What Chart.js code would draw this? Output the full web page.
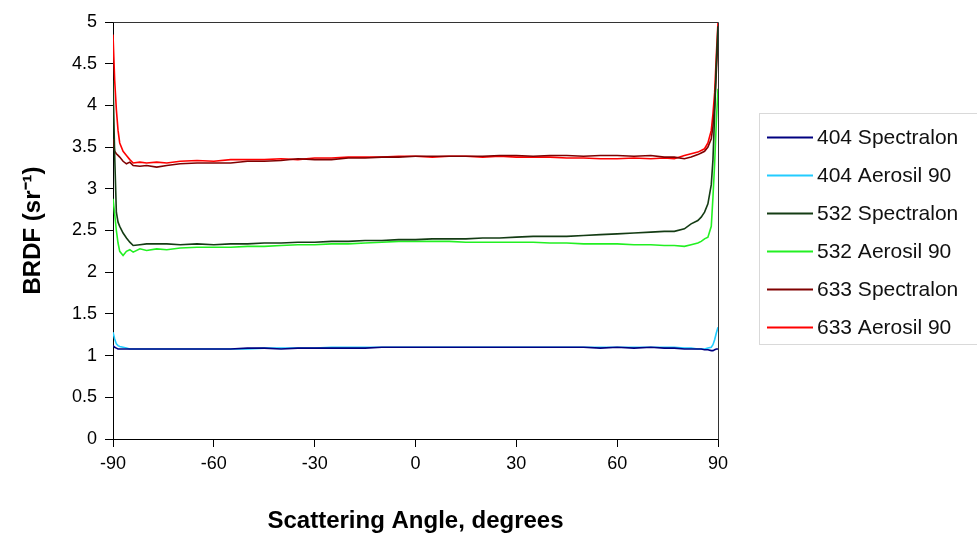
<!DOCTYPE html>
<html>
<head>
<meta charset="utf-8">
<script src="https://cdn.jsdelivr.net/npm/chart.js@4.4.1/dist/chart.umd.min.js"></script>
<style>
  html, body { margin: 0; padding: 0; background: #fff; }
  #wrap { width: 977px; height: 541px; position: relative; }
</style>
</head>
<body>
<div id="wrap"><canvas id="myChart" width="977" height="541"></canvas></div>
<script>
'use strict';

const angles = [-90, -89.5, -89, -88.5, -88, -87, -86, -85, -84, -82, -80, -77, -74, -70,
  -65, -60, -55, -50, -45, -40, -35, -30, -25, -20, -15, -10, -5, 0, 5, 10, 15, 20, 25, 30, 35, 40, 45, 50, 55, 60, 65,
  70, 74, 77, 80, 82, 84, 85, 86, 87, 88, 88.5, 89, 89.5, 90];

const spectralon404 = [1.12, 1.10, 1.09, 1.08, 1.08, 1.08, 1.08, 1.08, 1.08,
  1.08, 1.08, 1.08, 1.08, 1.08,
  1.08, 1.08, 1.08, 1.09, 1.09, 1.08, 1.09, 1.09, 1.09, 1.09, 1.09, 1.10, 1.10, 1.10, 1.10, 1.10, 1.10, 1.10, 1.10, 1.10, 1.10, 1.10, 1.10, 1.10, 1.09, 1.10, 1.09,
  1.10, 1.09, 1.09, 1.08, 1.08, 1.08, 1.08, 1.07, 1.07, 1.06, 1.06, 1.07, 1.08, 1.08];

const aerosil404 = [1.28, 1.20, 1.14, 1.12, 1.11, 1.10, 1.09, 1.08, 1.08,
  1.08, 1.08, 1.08, 1.08, 1.08,
  1.08, 1.08, 1.08, 1.08, 1.09, 1.09, 1.09, 1.09, 1.10, 1.10, 1.10, 1.10, 1.10, 1.10, 1.10, 1.10, 1.10, 1.10, 1.10, 1.10, 1.10, 1.10, 1.10, 1.10, 1.10, 1.10, 1.10,
  1.10, 1.10, 1.10, 1.09, 1.09, 1.08, 1.08, 1.08, 1.09, 1.10, 1.13, 1.19, 1.27, 1.34];

const spectralon532 = [4.30, 3.40, 2.72, 2.60, 2.55, 2.47, 2.41, 2.36, 2.32,
  2.33, 2.34, 2.34, 2.34, 2.33,
  2.34, 2.33, 2.34, 2.34, 2.35, 2.35, 2.36, 2.36, 2.37, 2.37, 2.38, 2.38, 2.39, 2.39, 2.40, 2.40, 2.40, 2.41, 2.41, 2.42, 2.43, 2.43, 2.43, 2.44, 2.45, 2.46, 2.47,
  2.48, 2.49, 2.49, 2.52, 2.58, 2.62, 2.66, 2.72, 2.82, 3.05, 3.35, 3.90, 4.50, 4.95];

const aerosil532 = [2.88, 2.70, 2.50, 2.35, 2.25, 2.20, 2.25, 2.27, 2.24,
  2.28, 2.26, 2.28, 2.27, 2.29,
  2.30, 2.30, 2.30, 2.31, 2.31, 2.32, 2.33, 2.33, 2.34, 2.34, 2.35, 2.36, 2.37, 2.37, 2.37, 2.37, 2.36, 2.36, 2.36, 2.36, 2.36, 2.35, 2.35, 2.34, 2.34, 2.34, 2.33,
  2.33, 2.32, 2.32, 2.31, 2.33, 2.35, 2.37, 2.40, 2.42, 2.55, 2.90, 3.30, 3.80, 4.20];

const spectralon633 = [3.60, 3.45, 3.42, 3.40, 3.38, 3.33, 3.30, 3.32, 3.28,
  3.27, 3.28, 3.26, 3.28, 3.30,
  3.31, 3.31, 3.31, 3.33, 3.33, 3.34, 3.36, 3.35, 3.35, 3.37, 3.37, 3.38, 3.38, 3.39, 3.39, 3.39, 3.39, 3.39, 3.40, 3.40, 3.39, 3.40, 3.40, 3.39, 3.40, 3.40, 3.39,
  3.40, 3.38, 3.38, 3.36, 3.38, 3.41, 3.43, 3.45, 3.50, 3.60, 3.75, 4.00, 4.40, 4.80];

const aerosil633 = [4.85, 4.30, 3.95, 3.70, 3.55, 3.45, 3.40, 3.35, 3.31,
  3.32, 3.31, 3.32, 3.31, 3.33,
  3.34, 3.33, 3.35, 3.35, 3.35, 3.36, 3.35, 3.37, 3.37, 3.38, 3.38, 3.38, 3.39, 3.39, 3.38, 3.39, 3.39, 3.38, 3.39, 3.38, 3.38, 3.38, 3.37, 3.37, 3.36, 3.36, 3.37,
  3.36, 3.37, 3.36, 3.40, 3.42, 3.44, 3.46, 3.48, 3.55, 3.70, 3.90, 4.15, 4.60, 5.00];

const seriesNames = ['404 Spectralon', '404 Aerosil 90', '532 Spectralon', '532 Aerosil 90', '633 Spectralon', '633 Aerosil 90'];
const seriesValues = [spectralon404, aerosil404, spectralon532, aerosil532, spectralon633, aerosil633];
const seriesColors = ['#000080', '#22ccff', '#143c14', '#22f022', '#800000', '#ff0000'];

const yTicks = [0, 0.5, 1, 1.5, 2, 2.5, 3, 3.5, 4, 4.5, 5];
const xTicks = [-90, -60, -30, 0, 30, 60, 90];

const fontFamily = "'Liberation Sans', Arial, sans-serif";

// box round the plot and the legend at the right
const framePlugin = {
  id: 'frame',
  afterDatasetsDraw(chart) {
    const ctx = chart.ctx;
    const a = chart.chartArea;
    ctx.save();
    ctx.strokeStyle = '#333';
    ctx.lineWidth = 1;
    ctx.beginPath();
    ctx.moveTo(Math.round(a.left) + 0.5, Math.round(a.top) + 0.5);
    ctx.lineTo(Math.round(a.right) + 0.5, Math.round(a.top) + 0.5);
    ctx.lineTo(Math.round(a.right) + 0.5, Math.round(a.bottom) + 0.5);
    ctx.stroke();

    ctx.strokeStyle = '#d9d9d9';
    ctx.strokeRect(759.5, 113.5, 240, 231);

    ctx.font = '21px ' + fontFamily;
    ctx.textBaseline = 'middle';
    ctx.fillStyle = '#111';
    for (let i = 0; i < seriesNames.length; i++) {
      let y = 137 + i * 38;
      ctx.strokeStyle = seriesColors[i];
      ctx.lineWidth = 2;
      ctx.beginPath();
      ctx.moveTo(767, y + 0.5);
      ctx.lineTo(813, y + 0.5);
      ctx.stroke();
      ctx.fillText(seriesNames[i], 817, y + 1);
    }
    ctx.restore();
  }
};

const datasets = seriesNames.map((name, i) => ({
  label: name,
  data: angles.map((a, j) => ({ x: a, y: seriesValues[i][j] })),
  borderColor: seriesColors[i],
  backgroundColor: seriesColors[i],
  borderWidth: 1.6,
  pointRadius: 0,
  tension: 0,
  fill: false,
}));

const config = {
  type: 'line',
  data: { datasets: datasets },
  options: {
    responsive: false,
    animation: false,
    layout: { padding: { left: 0, top: 22, right: 259, bottom: 0 } },
    plugins: {
      legend: { display: false },
      tooltip: { enabled: false },
    },
    scales: {
      x: {
        type: 'linear',
        min: -90,
        max: 90,
        afterFit(scale) { scale.height = 102; },
        afterBuildTicks(scale) { scale.ticks = xTicks.map(v => ({ value: v })); },
        ticks: {
          color: '#000',
          font: { family: fontFamily, size: 18 },
          padding: 6,
          maxRotation: 0,
        },
        grid: { drawOnChartArea: false, drawTicks: true, tickLength: 8, color: '#000' },
        border: { display: true, color: '#000', width: 1 },
        title: {
          display: true,
          text: 'Scattering Angle, degrees',
          color: '#000',
          font: { family: fontFamily, size: 24, weight: 'bold' },
          padding: { top: 0, bottom: 5 },
        },
      },
      y: {
        type: 'linear',
        min: 0,
        max: 5,
        afterFit(scale) { scale.width = 113; },
        afterBuildTicks(scale) { scale.ticks = yTicks.map(v => ({ value: v })); },
        ticks: {
          color: '#000',
          font: { family: fontFamily, size: 18 },
          padding: 8,
          callback: v => String(v),
        },
        grid: { drawOnChartArea: false, drawTicks: true, tickLength: 8, color: '#000' },
        border: { display: true, color: '#000', width: 1 },
        title: {
          display: true,
          text: 'BRDF (sr⁻¹)',
          color: '#000',
          font: { family: fontFamily, size: 24, weight: 'bold' },
          padding: { top: 19, bottom: 0 },
        },
      },
    },
  },
  plugins: [framePlugin],
};

new Chart(document.getElementById('myChart').getContext('2d'), config);
</script>
</body>
</html>
